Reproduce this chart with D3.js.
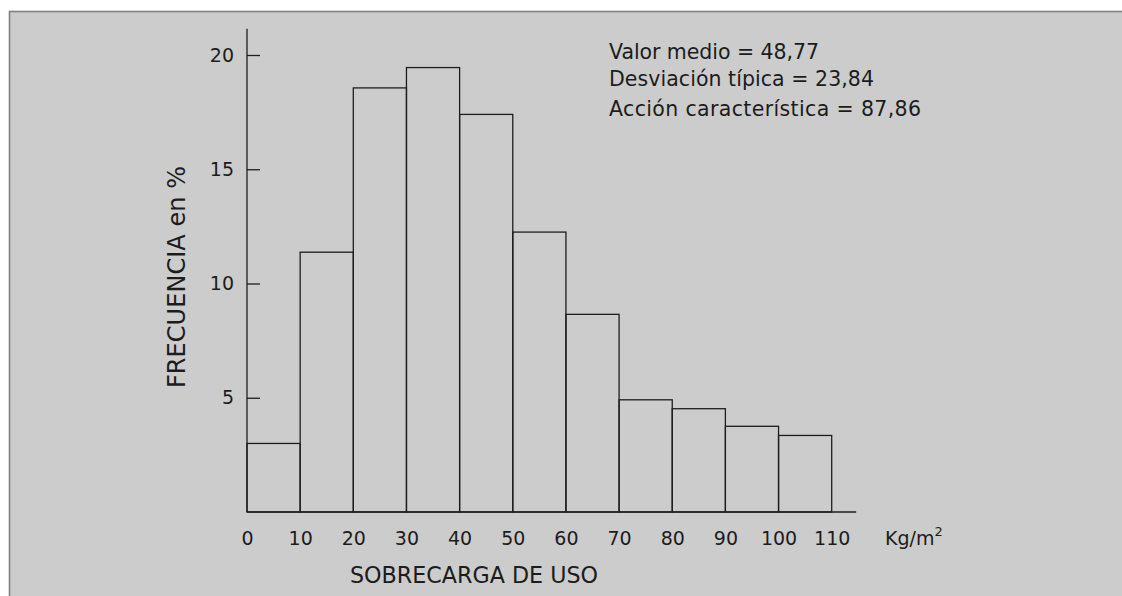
<!DOCTYPE html>
<html>
<head>
<meta charset="utf-8">
<script src="https://cdn.jsdelivr.net/npm/d3@7"></script>
<style>
  html, body { margin: 0; padding: 0; background: #ffffff; overflow: hidden; }
  svg { display: block; }
  text { font-family: "DejaVu Sans", sans-serif; fill: #1c1c1c; }
</style>
</head>
<body>
<svg id="chart" width="1122" height="596"></svg>
<script>
// ---- data ----
const binStarts = [0, 10, 20, 30, 40, 50, 60, 70, 80, 90, 100];
const binWidth = 10;
const frequencies = [3.0, 11.37, 18.56, 19.45, 17.4, 12.25, 8.65, 4.91, 4.52, 3.75, 3.35];
const xTickValues = [0, 10, 20, 30, 40, 50, 60, 70, 80, 90, 100, 110];
const yTickValues = [5, 10, 15, 20];
const statsLines = ["Valor medio = 48,77", "Desviación típica = 23,84", "Acción característica = 87,86"];
const xTitle = "SOBRECARGA DE USO";
const yTitle = "FRECUENCIA  en  %";
const unitLabel = "Kg/m";
const unitSup = "2";

const svg = d3.select("#chart");

// panel background
svg.append("rect")
  .attr("x", 9.5).attr("y", 11.5)
  .attr("width", 1200).attr("height", 700)
  .attr("fill", "#cccccc")
  .attr("stroke", "#808080")
  .attr("stroke-width", 1.6);

const x = d3.scaleLinear().domain([0, 110]).range([247, 831.7]);
const y = d3.scaleLinear().domain([0, 20]).range([512, 55]);

const lineColor = "#1e1e1e";

// bars
svg.append("g").selectAll("rect")
  .data(binStarts)
  .join("rect")
  .attr("x", d => x(d))
  .attr("y", (d, i) => y(frequencies[i]))
  .attr("width", d => x(d + binWidth) - x(d))
  .attr("height", (d, i) => y(0) - y(frequencies[i]))
  .attr("fill", "none")
  .attr("stroke", lineColor)
  .attr("stroke-width", 1.3);

// y axis
const yAxis = svg.append("g")
  .attr("transform", `translate(${x(0)},0)`)
  .call(d3.axisLeft(y).tickValues(yTickValues).tickSize(-13).tickPadding(13).tickFormat(d3.format("d")));
yAxis.select(".domain").remove();
yAxis.selectAll(".tick line").attr("stroke", lineColor).attr("stroke-width", 1.3);
yAxis.selectAll(".tick text")
  .style("font-family", "'DejaVu Sans', sans-serif")
  .style("font-size", "19px")
  .attr("fill", "#1c1c1c");
svg.append("line")
  .attr("x1", x(0)).attr("x2", x(0))
  .attr("y1", y(0)).attr("y2", y(21.15))
  .attr("stroke", lineColor).attr("stroke-width", 1.3);

// x axis
const xAxis = svg.append("g")
  .attr("transform", `translate(0,${y(0)})`)
  .call(d3.axisBottom(x).tickValues(xTickValues).tickSize(0).tickPadding(19.5).tickFormat(d3.format("d")));
xAxis.select(".domain").remove();
xAxis.selectAll(".tick text")
  .style("font-family", "'DejaVu Sans', sans-serif")
  .style("font-size", "19px")
  .attr("fill", "#1c1c1c");
svg.append("line")
  .attr("x1", x(0)).attr("x2", x(114.6))
  .attr("y1", y(0)).attr("y2", y(0))
  .attr("stroke", lineColor).attr("stroke-width", 1.3);

// unit label
const unit = svg.append("text")
  .attr("x", 885).attr("y", 545)
  .style("font-size", "19px");
unit.append("tspan").text(unitLabel);
unit.append("tspan").attr("dy", -9).style("font-size", "13px").text(unitSup);

// stats text
const statsY = [59, 86, 116];
const statsW = [210, 265, 312];
svg.append("g").selectAll("text")
  .data(statsLines)
  .join("text")
  .attr("x", 609)
  .attr("y", (d, i) => statsY[i])
  .style("font-size", "20.5px")
  .attr("textLength", (d, i) => statsW[i])
  .attr("lengthAdjust", "spacing")
  .text(d => d);

// axis titles
svg.append("text")
  .attr("x", 350).attr("y", 583)
  .style("font-size", "22.5px")
  .attr("textLength", 248)
  .attr("lengthAdjust", "spacingAndGlyphs")
  .text(xTitle);

svg.append("text")
  .attr("transform", "translate(185,388) rotate(-90)")
  .attr("x", 0).attr("y", 0)
  .style("font-size", "24px")
  .attr("textLength", 222)
  .attr("lengthAdjust", "spacing")
  .text(yTitle);
</script>
</body>
</html>
